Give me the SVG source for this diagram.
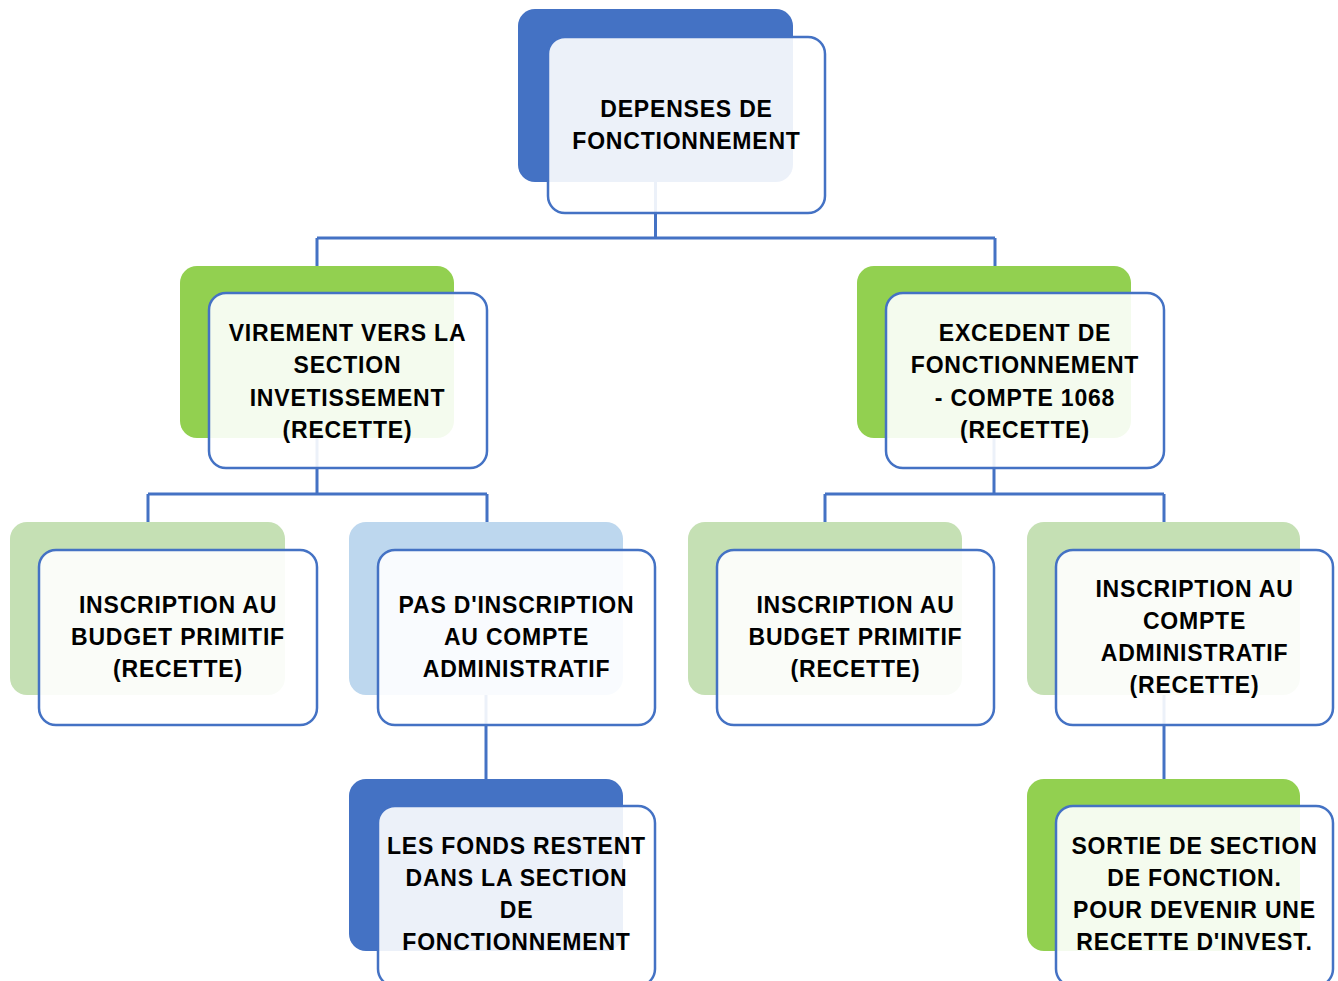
<svg xmlns="http://www.w3.org/2000/svg" width="1338" height="981" viewBox="0 0 1338 981">
<style>
.bg{fill:#ffffff}
.back{stroke:none}
.front{fill:#ffffff;fill-opacity:0.9;stroke:#4472C4;stroke-width:2.5}
.conn{fill:none;stroke:#4472C4;stroke-width:3}
text{font-family:"Liberation Sans",Arial,sans-serif;font-weight:700;font-size:23px;fill:#000;text-anchor:middle;letter-spacing:0.8px}
</style>
<rect class="bg" x="0" y="0" width="1338" height="981"/>
<g id="connectors">
<path class="conn" d="M655.5,182 V238 M317,238 H995 M317,238 V266 M995,238 V266"/>
<path class="conn" d="M317,438 V494 M148,494 H487 M148,494 V522 M487,494 V522"/>
<path class="conn" d="M994,438 V494 M825,494 H1164 M825,494 V522 M1164,494 V522"/>
<path class="conn" d="M486,695 V779"/>
<path class="conn" d="M1164,695 V779"/>
</g>
<g id="node-top">
<rect class="back" x="518" y="9" width="275" height="173" rx="17" fill="#4472C4"/>
<rect class="front" x="548" y="37" width="277" height="176" rx="17"/>
<text x="686.5" y="117">DEPENSES DE</text>
<text x="686.5" y="149">FONCTIONNEMENT</text>
</g>
<g id="node-virement">
<rect class="back" x="180" y="266" width="274" height="172" rx="17" fill="#92D050"/>
<rect class="front" x="209" y="293" width="278" height="175" rx="17"/>
<text x="347.5" y="341">VIREMENT VERS LA</text>
<text x="347.5" y="373">SECTION</text>
<text x="347.5" y="405.5">INVETISSEMENT</text>
<text x="347.5" y="438">(RECETTE)</text>
</g>
<g id="node-excedent">
<rect class="back" x="857" y="266" width="274" height="172" rx="17" fill="#92D050"/>
<rect class="front" x="886" y="293" width="278" height="175" rx="17"/>
<text x="1025" y="341">EXCEDENT DE</text>
<text x="1025" y="373">FONCTIONNEMENT</text>
<text x="1025" y="405.5">- COMPTE 1068</text>
<text x="1025" y="438">(RECETTE)</text>
</g>
<g id="node-inscription-bp-1">
<rect class="back" x="10" y="522" width="275" height="173" rx="17" fill="#C5E0B4"/>
<rect class="front" x="39" y="550" width="278" height="175" rx="17"/>
<text x="178" y="612.5">INSCRIPTION AU</text>
<text x="178" y="645">BUDGET PRIMITIF</text>
<text x="178" y="677">(RECETTE)</text>
</g>
<g id="node-pas-inscription">
<rect class="back" x="349" y="522" width="274" height="173" rx="17" fill="#BDD7EE"/>
<rect class="front" x="378" y="550" width="277" height="175" rx="17"/>
<text x="516.5" y="612.5">PAS D'INSCRIPTION</text>
<text x="516.5" y="645">AU COMPTE</text>
<text x="516.5" y="677">ADMINISTRATIF</text>
</g>
<g id="node-inscription-bp-2">
<rect class="back" x="688" y="522" width="274" height="173" rx="17" fill="#C5E0B4"/>
<rect class="front" x="717" y="550" width="277" height="175" rx="17"/>
<text x="855.5" y="612.5">INSCRIPTION AU</text>
<text x="855.5" y="645">BUDGET PRIMITIF</text>
<text x="855.5" y="677">(RECETTE)</text>
</g>
<g id="node-inscription-ca">
<rect class="back" x="1027" y="522" width="273" height="173" rx="17" fill="#C5E0B4"/>
<rect class="front" x="1056" y="550" width="277" height="175" rx="17"/>
<text x="1194.5" y="597">INSCRIPTION AU</text>
<text x="1194.5" y="629">COMPTE</text>
<text x="1194.5" y="661">ADMINISTRATIF</text>
<text x="1194.5" y="693">(RECETTE)</text>
</g>
<g id="node-fonds-restent">
<rect class="back" x="349" y="779" width="274" height="172" rx="17" fill="#4472C4"/>
<rect class="front" x="378" y="806" width="277" height="180" rx="17"/>
<text x="516.5" y="854">LES FONDS RESTENT</text>
<text x="516.5" y="886">DANS LA SECTION</text>
<text x="516.5" y="918">DE</text>
<text x="516.5" y="950">FONCTIONNEMENT</text>
</g>
<g id="node-sortie">
<rect class="back" x="1027" y="779" width="273" height="172" rx="17" fill="#92D050"/>
<rect class="front" x="1056" y="806" width="277" height="180" rx="17"/>
<text x="1194.5" y="854">SORTIE DE SECTION</text>
<text x="1194.5" y="886">DE FONCTION.</text>
<text x="1194.5" y="918">POUR DEVENIR UNE</text>
<text x="1194.5" y="950">RECETTE D'INVEST.</text>
</g>
</svg>
